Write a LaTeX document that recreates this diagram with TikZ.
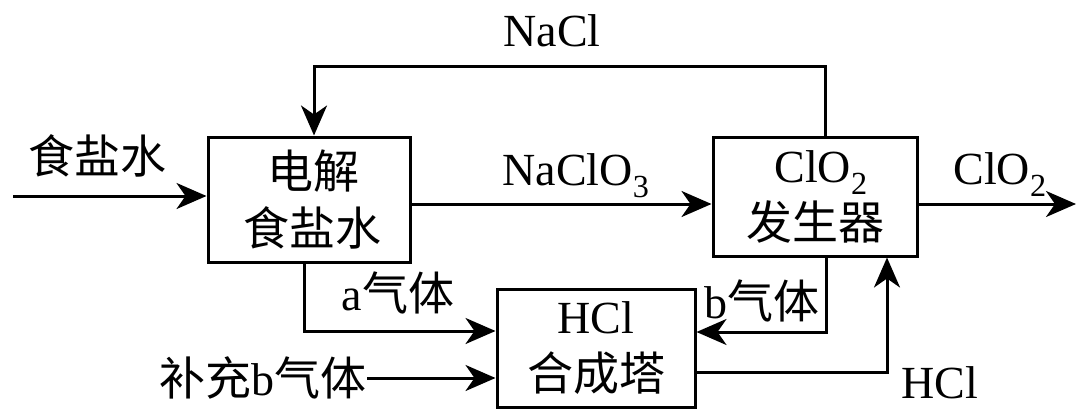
\documentclass[tikz,border=0pt]{standalone}
\usepackage{fontspec}
\setmainfont{Liberation Serif}
\newfontfamily\cjk{Noto Sans CJK SC}
\usetikzlibrary{arrows.meta}
\tikzset{
  box/.style={draw, line width=3pt, inner sep=0pt, align=center, font=\fontsize{46}{57}\selectfont},
  ln/.style={line width=3pt},
  arr/.style={line width=3pt, -{Stealth[length=30pt,width=26pt,inset=9pt]}},
  lbl/.style={font=\fontsize{46}{57}\selectfont, inner sep=0pt},
}
\begin{document}
\begin{tikzpicture}[x=1pt,y=1pt]
\useasboundingbox (0,0) rectangle (1078,-412);
% boxes
\node[box, minimum width=202pt, minimum height=125pt] (b1) at (309,-199.5) {\hspace*{8pt}{\cjk 电解}\\\hspace*{6pt}{\cjk 食盐水}};
\node[box, minimum width=204pt, minimum height=119pt] (b2) at (815,-196.5) {\hspace*{12pt}ClO\textsubscript{2}\\{\cjk 发生器}};
\node[box, minimum width=198pt, minimum height=118pt] (b3) at (596,-348) {HCl\\{\cjk 合成塔}};
% free ends
\coordinate (in1) at (13,-196);
\coordinate (out1) at (1076,-204);
% labels
\node[lbl] (lsalt) at (97,-156) {\cjk 食盐水};
\node[lbl, anchor=base] (lnacl) at (552,-47) {NaCl};
\node[lbl, anchor=base] (lnaclo) at (576,-185) {NaClO\textsubscript{3}};
\node[lbl, anchor=base] (lclo) at (1000,-184) {ClO\textsubscript{2}};
\node[lbl] (la) at (398,-293) {a{\cjk 气体}};
\node[lbl] (lb) at (762,-301) {b{\cjk 气体}};
\node[lbl, anchor=base] (lhcl) at (940,-398) {HCl};
\node[lbl, anchor=east] (lsup) at (367,-378) {{\cjk 补充}b{\cjk 气体}};
% connectors
\draw[arr] (in1) -- (in1 -| b1.west);
\draw[arr] ([xshift=10pt]b2.north) -- ++(0,69pt) -| ([xshift=5pt]b1.north);
\draw[arr] (b1.east |- 0,-204) -- (b2.west |- 0,-204);
\draw[arr] (b2.east |- out1) -- (out1);
\draw[arr] ([xshift=-5pt]b1.south) |- (b3.west |- 0,-331);
\draw[arr] (lsup.east) -- (b3.west |- lsup.east);
\draw[arr] ([xshift=11pt]b2.south) |- (b3.east |- 0,-332);
\draw[arr] (b3.east |- 0,-372) -| ([xshift=72pt]b2.south);
\end{tikzpicture}
\end{document}
